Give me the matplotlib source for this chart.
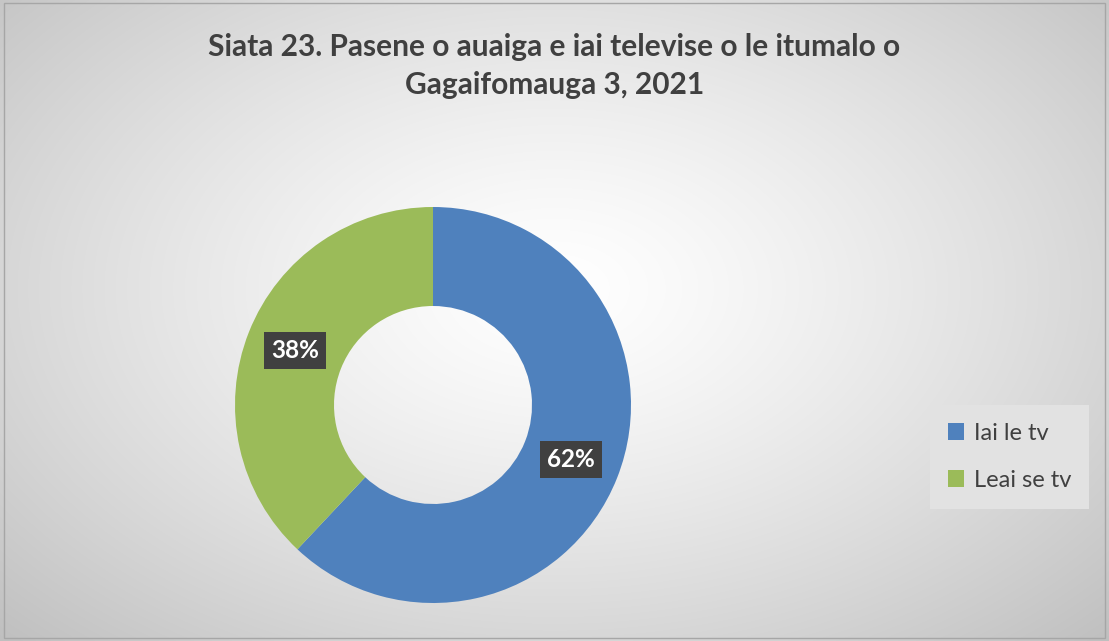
import numpy as np
import matplotlib
matplotlib.use("Agg")
import matplotlib.pyplot as plt
from matplotlib.patches import Rectangle

plt.rcParams['font.family'] = ['Lato', 'DejaVu Sans']

title = "Siata 23. Pasene o auaiga e iai televise o le itumalo o\nGagaifomauga 3, 2021"
categories = ["Iai le tv", "Leai se tv"]
values = [62, 38]
colors = ["#4F81BD", "#9BBB59"]

W, H = 1109, 641
fig = plt.figure(figsize=(W / 100, H / 100), dpi=100)

# radial gradient background
bg = fig.add_axes([0, 0, 1, 1])
yy, xx = np.mgrid[0:H, 0:W]
cx, cy = W * 0.5, H * 0.45
r = np.sqrt(((xx - cx) / (W * 0.5)) ** 2 + ((yy - cy) / (H * 0.55)) ** 2) / np.sqrt(2)
g = np.clip(1.0 - 0.25 * r ** 1.3, 0, 1)
img = np.dstack([g, g, g])
bg.imshow(img, extent=[0, W, H, 0], aspect='auto', interpolation='bilinear')
bg.set_xlim(0, W)
bg.set_ylim(H, 0)
bg.axis('off')
bg.add_patch(Rectangle((4, 3), W - 8, H - 6, fill=False, edgecolor='#a6a6a6', linewidth=1))

fig.text(0.5, 1 - 66 / H, title, ha='center', va='center', fontsize=21.5,
         fontweight='bold', color='#404040', linespacing=1.42)

R = 198
cxp, cyp = 433, 405
ax = fig.add_axes([(cxp - R) / W, (H - cyp - R) / H, 2 * R / W, 2 * R / H])
wedges, texts, autotexts = ax.pie(
    values, colors=colors, startangle=90, counterclock=False,
    radius=1.0, autopct='%1.0f%%', pctdistance=0.75,
    wedgeprops=dict(width=0.5, edgecolor='none'),
    textprops=dict(color='white', fontsize=17.5, fontweight='bold'))
for t in autotexts:
    t.set_bbox(dict(boxstyle='square,pad=0.3', facecolor='#404040', edgecolor='none'))
ax.set_xlim(-1, 1)
ax.set_ylim(-1, 1)
ax.set_aspect('equal')
ax.axis('off')

leg = fig.legend(wedges, categories, loc='center left',
                 bbox_to_anchor=(930 / W, 1 - 457 / H),
                 frameon=True, fontsize=17, labelcolor='#404040',
                 handlelength=0.7, handleheight=0.7, handletextpad=0.4,
                 labelspacing=1.1, borderpad=0.75, borderaxespad=0,
                 fancybox=False)
leg.get_frame().set_facecolor('#e2e2e2')
leg.get_frame().set_edgecolor('none')
leg.get_frame().set_alpha(1)

fig.savefig("out.png", dpi=100)
